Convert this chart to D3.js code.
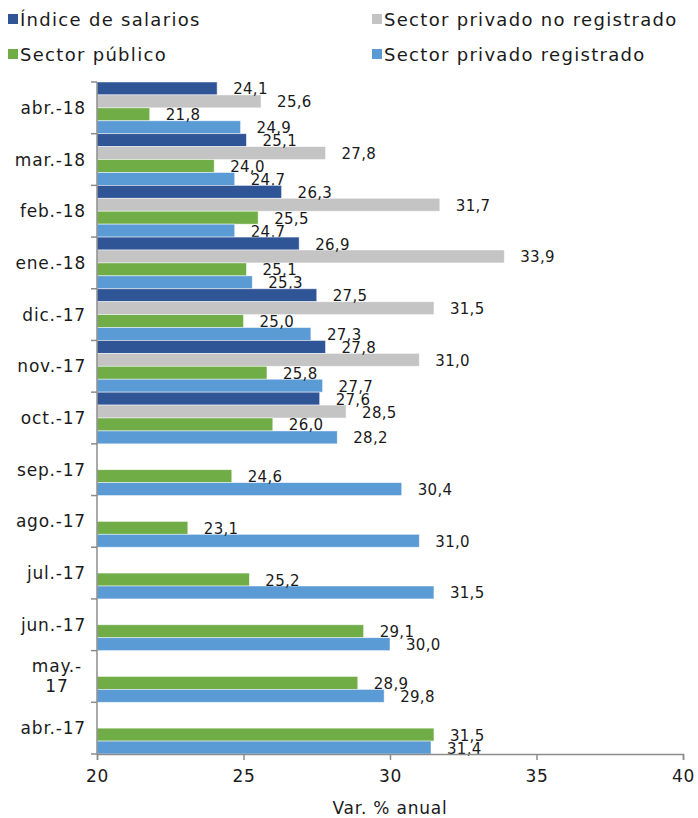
<!DOCTYPE html>
<html>
<head>
<meta charset="utf-8">
<script src="https://cdn.jsdelivr.net/npm/d3@7"></script>
<style>
  body { margin: 0; background: #fff; }
  svg text { font-family: "DejaVu Sans", sans-serif; fill: #1a1a1a; }
</style>
</head>
<body>
<svg width="698" height="818"></svg>
<script>
// categories, top to bottom
var months = ["abr.-18", "mar.-18", "feb.-18", "ene.-18", "dic.-17", "nov.-17", "oct.-17",
              "sep.-17", "ago.-17", "jul.-17", "jun.-17", "may.-17", "abr.-17"];
var monthLabels = ["abr.-18", "mar.-18", "feb.-18", "ene.-18", "dic.-17", "nov.-17", "oct.-17",
                   "sep.-17", "ago.-17", "jul.-17", "jun.-17", "may.-\n17", "abr.-17"];

var indiceSalarios  = [24.1, 25.1, 26.3, 26.9, 27.5, 27.8, 27.6, null, null, null, null, null, null];
var privadoNoReg    = [25.6, 27.8, 31.7, 33.9, 31.5, 31.0, 28.5, null, null, null, null, null, null];
var sectorPublico   = [21.8, 24.0, 25.5, 25.1, 25.0, 25.8, 26.0, 24.6, 23.1, 25.2, 29.1, 28.9, 31.5];
var privadoReg      = [24.9, 24.7, 24.7, 25.3, 27.3, 27.7, 28.2, 30.4, 31.0, 31.5, 30.0, 29.8, 31.4];

var seriesNames = ["Índice de salarios", "Sector privado no registrado", "Sector público", "Sector privado registrado"];
var seriesColors = ["#2f5597", "#c4c4c4", "#70ad47", "#5b9bd5"];
var xTicks = [20, 25, 30, 35, 40];

var series = [indiceSalarios, privadoNoReg, sectorPublico, privadoReg];

var svg = d3.select("svg");

var x = d3.scaleLinear().domain([20, 40]).range([97, 683]);
var y = d3.scaleBand().domain(months).range([82, 754]).padding(0);
var ySub = d3.scaleBand().domain(d3.range(series.length)).range([0, y.bandwidth()]).padding(0);

// bars
var groups = svg.selectAll("g.month")
    .data(months)
  .enter().append("g")
    .attr("class", "month")
    .attr("transform", function(d) { return "translate(0," + y(d) + ")"; });

groups.each(function(m, i) {
  var g = d3.select(this);
  var rows = series.map(function(s, k) { return { k: k, v: s[i] }; })
      .filter(function(r) { return r.v != null; });

  g.selectAll("rect")
      .data(rows)
    .enter().append("rect")
      .attr("x", x(20))
      .attr("y", function(r) { return ySub(r.k); })
      .attr("width", function(r) { return x(r.v) - x(20); })
      .attr("height", ySub.bandwidth())
      .attr("fill", function(r) { return seriesColors[r.k]; })
      .attr("stroke", "#ffffff")
      .attr("stroke-opacity", 0.6)
      .attr("stroke-width", 0.8);

  g.selectAll("text")
      .data(rows)
    .enter().append("text")
      .attr("x", function(r) { return x(r.v) + 16; })
      .attr("y", function(r) { return ySub(r.k) + ySub.bandwidth() / 2 + 1; })
      .attr("dominant-baseline", "central")
      .style("font-size", "15px")
      .style("letter-spacing", "0.3px")
      .text(function(r) { return d3.format(".1f")(r.v).replace(".", ","); });
});

// y axis
svg.append("line")
    .attr("x1", x(20)).attr("x2", x(20))
    .attr("y1", y.range()[0]).attr("y2", y.range()[1])
    .attr("stroke", "#8c8c8c").attr("stroke-width", 1.5);

var edges = months.map(function(m) { return y(m); }).concat([y.range()[1]]);
svg.selectAll("line.ytick")
    .data(edges)
  .enter().append("line")
    .attr("class", "ytick")
    .attr("x1", x(20) - 6).attr("x2", x(20))
    .attr("y1", function(d) { return d; }).attr("y2", function(d) { return d; })
    .attr("stroke", "#8c8c8c").attr("stroke-width", 1.5);

svg.selectAll("text.ylab")
    .data(months)
  .enter().append("text")
    .attr("class", "ylab")
    .attr("text-anchor", "end")
    .style("font-size", "17px")
    .style("letter-spacing", "0.8px")
    .each(function(m, i) {
      var lines = monthLabels[i].split("\n");
      var cy = y(m) + y.bandwidth() / 2;
      var t = d3.select(this);
      lines.forEach(function(line, j) {
        t.append("tspan")
          .attr("x", 86)
          .attr("y", cy + (j - (lines.length - 1) / 2) * 20)
          .attr("dominant-baseline", "central")
          .text(line);
      });
      if (lines.length > 1) {
        // wrapped labels are centred on their widest line
        var w = d3.max(t.selectAll("tspan").nodes(), function(n) { return n.getComputedTextLength(); });
        t.attr("text-anchor", "middle");
        t.selectAll("tspan").attr("x", 82 - w / 2);
      }
    });

// x axis
var xAxis = svg.append("g")
    .attr("transform", "translate(0," + y.range()[1] + ")")
    .call(d3.axisBottom(x).tickValues(xTicks).tickSize(6).tickPadding(10));
xAxis.select(".domain").attr("stroke", "#8c8c8c").attr("stroke-width", 1.5);
xAxis.selectAll(".tick line").attr("stroke", "#8c8c8c").attr("stroke-width", 1.5);
xAxis.selectAll(".tick text")
    .style("font-size", "17px")
    .style("letter-spacing", "0.8px")
    .style("font-family", "DejaVu Sans, sans-serif")
    .attr("fill", "#1a1a1a");

svg.append("text")
    .attr("x", (x(20) + x(40)) / 2)
    .attr("y", 808)
    .attr("text-anchor", "middle")
    .attr("dominant-baseline", "central")
    .style("font-size", "17px")
    .style("letter-spacing", "0.8px")
    .text("Var. % anual");

// legend
var legendPos = [[8, 19], [372, 19], [8, 54], [372, 54]];
var legend = svg.selectAll("g.legend")
    .data(seriesNames)
  .enter().append("g")
    .attr("class", "legend")
    .attr("transform", function(d, i) { return "translate(" + legendPos[i][0] + "," + legendPos[i][1] + ")"; });

legend.append("rect")
    .attr("x", 0).attr("y", -5)
    .attr("width", 10).attr("height", 10)
    .attr("fill", function(d, i) { return seriesColors[i]; });

legend.append("text")
    .attr("x", 12)
    .attr("y", 0)
    .attr("dominant-baseline", "central")
    .style("font-size", "18px")
    .style("letter-spacing", "1.3px")
    .text(function(d) { return d; });
</script>
</body>
</html>
